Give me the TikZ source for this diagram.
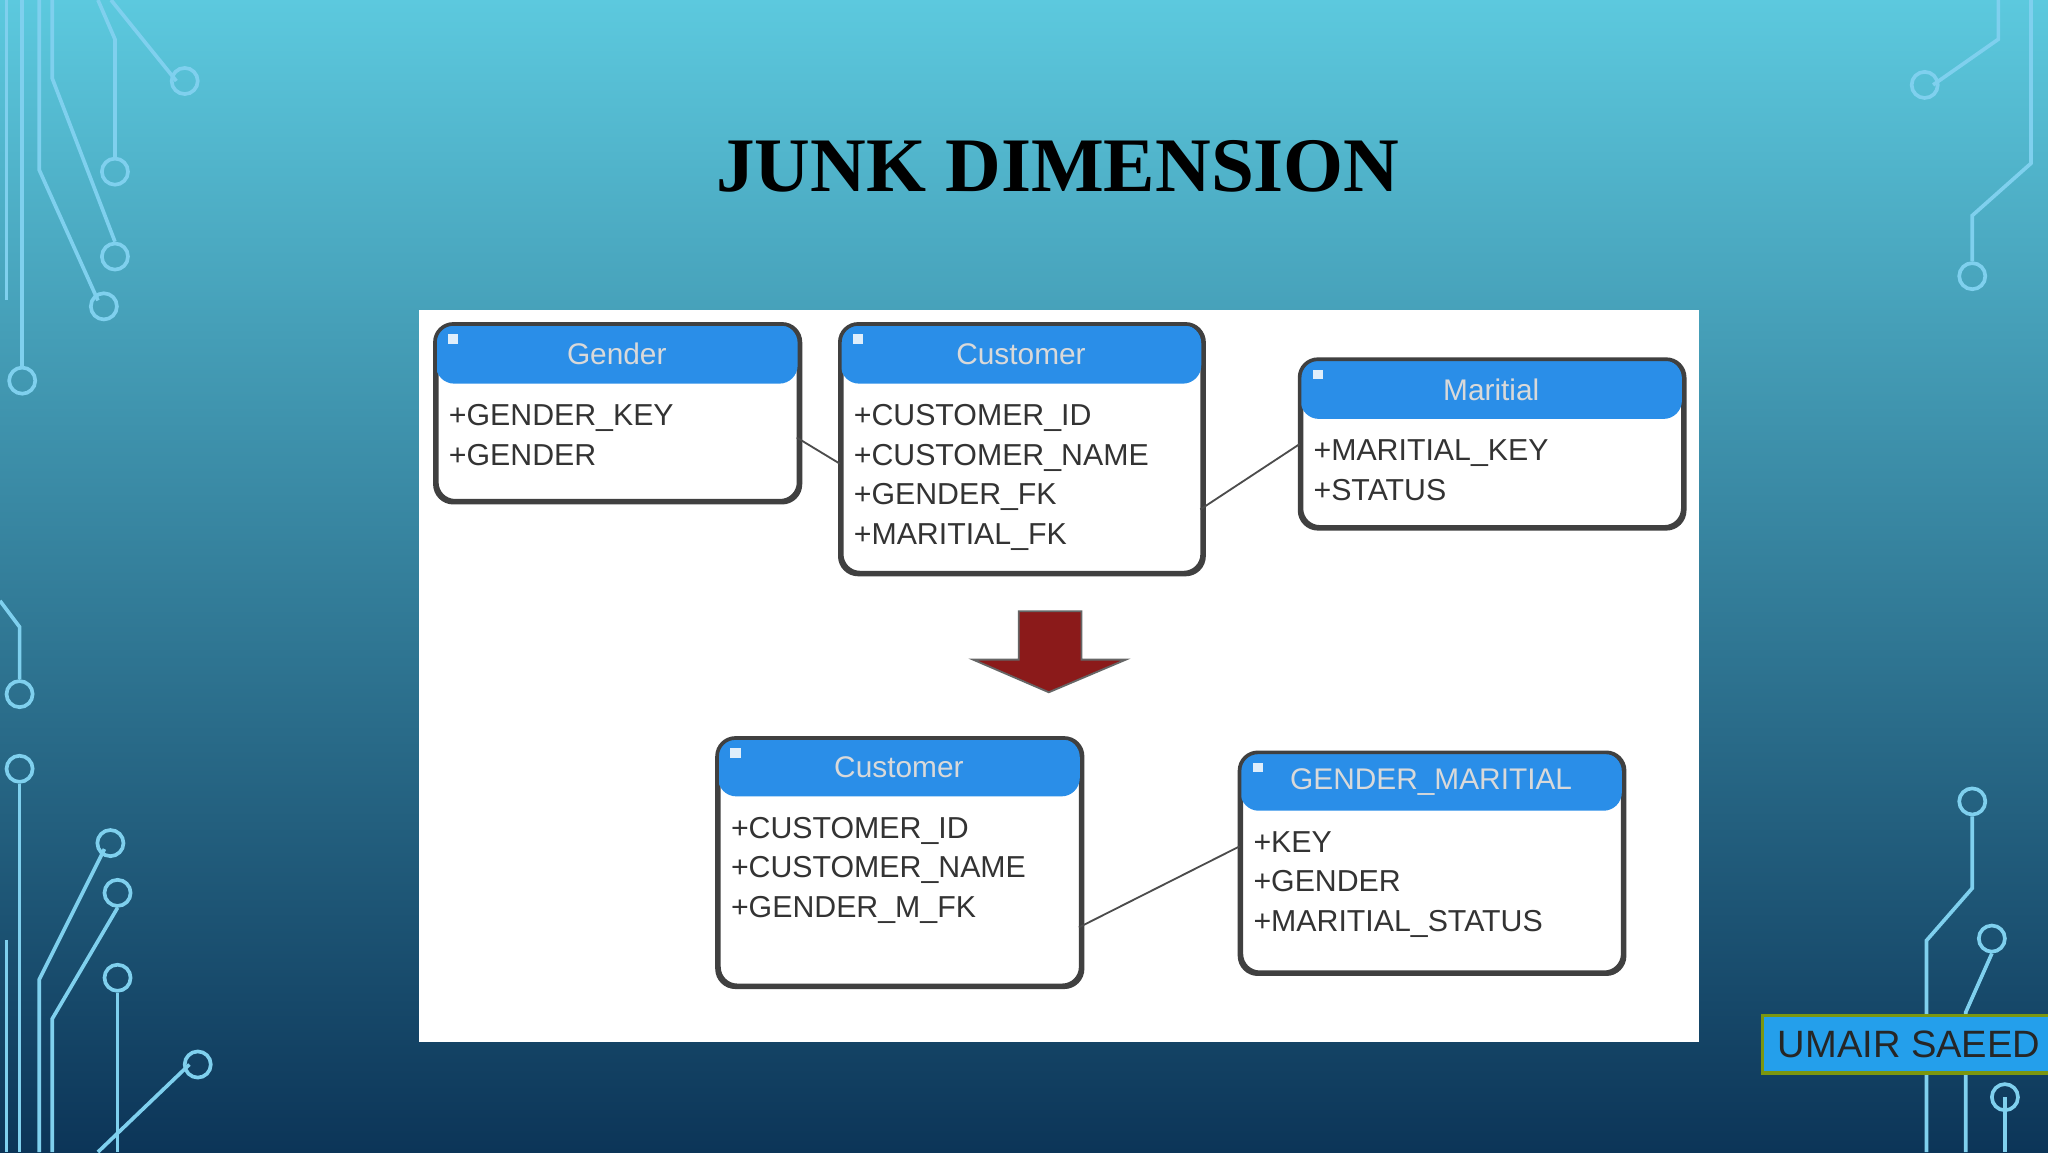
\documentclass[tikz,border=0pt]{standalone}
\usepackage{fontspec}
\setmainfont{Liberation Serif}
\setsansfont{Liberation Sans}
\usetikzlibrary{positioning}
\definecolor{hdblue}{HTML}{2A8EE8}
\definecolor{topcyan}{HTML}{5CC9DE}
\definecolor{botnavy}{HTML}{0C3558}
\definecolor{wire}{HTML}{7FD0EE}
\definecolor{arrowred}{HTML}{8B1A1A}
\tikzset{
  tbody/.style={draw=black!75, thick, rounded corners=4pt, fill=white, anchor=north west},
  thead/.style={fill=hdblue, rounded corners=4pt, anchor=north west, font=\sffamily\fontsize{6.5}{8}\selectfont, text=white!85!black},
  tfield/.style={anchor=north west, align=left, inner sep=0pt, font=\sffamily\fontsize{6.6}{8.6}\selectfont, text=black!80},
  rel/.style={draw=black!70, thin},
  wires/.style={draw=wire, line width=0.8pt},
  dot/.style={circle, draw=wire, line width=0.8pt, minimum size=0.2cm, inner sep=0pt},
}
\begin{document}
\begin{tikzpicture}
\useasboundingbox (0,0) rectangle (15.68,-8.82);
\shade[top color=topcyan, bottom color=botnavy] (0,0) rectangle (15.68,-8.82);
% circuit lines
\draw[wires] (0.05,0) -- (0.05,-2.3);
\draw[wires] (0.17,0) -- (0.17,-2.8) node[dot, below] (l1) {};
\draw[wires] (0.3,0) -- (0.3,-1.3) -- (0.75,-2.3) node[dot, below right=-0.05cm] (l2) {};
\draw[wires] (0.4,0) -- (0.4,-0.6) -- (0.88,-1.85) node[dot, below] (l3) {};
\draw[wires] (0.75,0) -- (0.88,-0.3) -- (0.88,-1.2) node[dot, below] (l4) {};
\draw[wires] (0.85,0) -- (1.35,-0.62) node[dot, right=-0.05cm] (l5) {};
\draw[wires] (0,-4.6) -- (0.15,-4.8) -- (0.15,-5.2) node[dot, below] (l6) {};
\draw[wires] (0.15,-6) node[dot, above] (l7) {} -- (0.15,-8.82);
\draw[wires] (0.05,-7.2) -- (0.05,-8.82);
\draw[wires] (0.3,-8.82) -- (0.3,-7.5) -- (0.8,-6.5) node[dot, above right=-0.05cm] (l8) {};
\draw[wires] (0.4,-8.82) -- (0.4,-7.8) -- (0.9,-6.95) node[dot, above] (l9) {};
\draw[wires] (0.9,-8.82) -- (0.9,-7.6) node[dot, above] (l10) {};
\draw[wires] (0.75,-8.82) -- (1.45,-8.15) node[dot, right=-0.05cm] (l11) {};
\draw[wires] (15.3,0) -- (15.3,-0.3) -- (14.8,-0.65) node[dot, left=-0.05cm] (r1) {};
\draw[wires] (15.55,0) -- (15.55,-1.25) -- (15.1,-1.65) -- (15.1,-2) node[dot, below] (r2) {};
\draw[wires] (15.1,-6.25) node[dot, above] (r3) {} -- (15.1,-6.8) -- (14.75,-7.2) -- (14.75,-8.82);
\draw[wires] (15.25,-7.3) node[dot, above] (r4) {} -- (15.05,-7.75) -- (15.05,-8.82);
\draw[wires] (15.35,-8.4) node[dot] (r5) {} -- (15.35,-8.82);
% panel
\fill[white] (3.21,-2.37) rectangle (13.01,-7.98);
\node[font=\bfseries\fontsize{16.8}{20}\selectfont] (title) at (8.1,-1.27) {JUNK DIMENSION};
% tables
\node[tbody, minimum width=2.77cm, minimum height=1.34cm] (gender) at (3.33,-2.48) {};
\node[thead, minimum width=2.77cm, minimum height=0.45cm] (genderh) at (3.33,-2.48) {Gender};
\draw[black!75, thick, rounded corners=4pt] (gender.north west) rectangle (gender.south east);
\node[tfield] (genderf) at (3.43,-3.09) {+GENDER\_KEY\\+GENDER};
\node[tbody, minimum width=2.76cm, minimum height=1.89cm] (cust) at (6.43,-2.48) {};
\node[thead, minimum width=2.76cm, minimum height=0.45cm] (custh) at (6.43,-2.48) {Customer};
\draw[black!75, thick, rounded corners=4pt] (cust.north west) rectangle (cust.south east);
\node[tfield] (custf) at (6.53,-3.09) {+CUSTOMER\_ID\\+CUSTOMER\_NAME\\+GENDER\_FK\\+MARITIAL\_FK};
\node[tbody, minimum width=2.92cm, minimum height=1.27cm] (mar) at (9.95,-2.75) {};
\node[thead, minimum width=2.92cm, minimum height=0.45cm] (marh) at (9.95,-2.75) {Maritial};
\draw[black!75, thick, rounded corners=4pt] (mar.north west) rectangle (mar.south east);
\node[tfield] (marf) at (10.05,-3.36) {+MARITIAL\_KEY\\+STATUS};
\node[tbody, minimum width=2.77cm, minimum height=1.88cm] (cust2) at (5.49,-5.65) {};
\node[thead, minimum width=2.77cm, minimum height=0.44cm] (cust2h) at (5.49,-5.65) {Customer};
\draw[black!75, thick, rounded corners=4pt] (cust2.north west) rectangle (cust2.south east);
\node[tfield] (cust2f) at (5.59,-6.25) {+CUSTOMER\_ID\\+CUSTOMER\_NAME\\+GENDER\_M\_FK};
\node[tbody, minimum width=2.92cm, minimum height=1.67cm] (gm) at (9.49,-5.76) {};
\node[thead, minimum width=2.92cm, minimum height=0.44cm] (gmh) at (9.49,-5.76) {GENDER\_MARITIAL};
\draw[black!75, thick, rounded corners=4pt] (gm.north west) rectangle (gm.south east);
\node[tfield] (gmf) at (9.59,-6.36) {+KEY\\+GENDER\\+MARITIAL\_STATUS};
% minus icons
\foreach \h in {genderh, custh, marh, cust2h, gmh}
  \fill[white!85!hdblue] ([xshift=0.1cm,yshift=-0.08cm]\h.north west) rectangle ++(0.08,-0.07);
% relations
\coordinate (g1) at (6.1,-3.35);
\coordinate (c1) at (6.43,-3.55);
\coordinate (c2) at (9.19,-3.9);
\coordinate (m1) at (9.95,-3.4);
\coordinate (k1) at (8.26,-7.1);
\coordinate (k2) at (9.49,-6.48);
\draw[rel] (g1) -- (c1);
\draw[rel] (c2) -- (m1);
\draw[rel] (k1) -- (k2);
% arrow
\fill[arrowred, draw=black!60] (7.8,-4.68) -- (8.28,-4.68) -- (8.28,-5.05) -- (8.62,-5.05)
  -- (8.03,-5.3) -- (7.45,-5.05) -- (7.8,-5.05) -- cycle;
% author
\node[fill=hdblue!85!cyan, draw=olive!70!green, thick, minimum width=2.2cm, minimum height=0.44cm,
  anchor=north west, font=\sffamily\fontsize{8.3}{10}\selectfont, text=black!85] (auth) at (13.48,-7.76) {UMAIR SAEED};
\end{tikzpicture}
\end{document}
